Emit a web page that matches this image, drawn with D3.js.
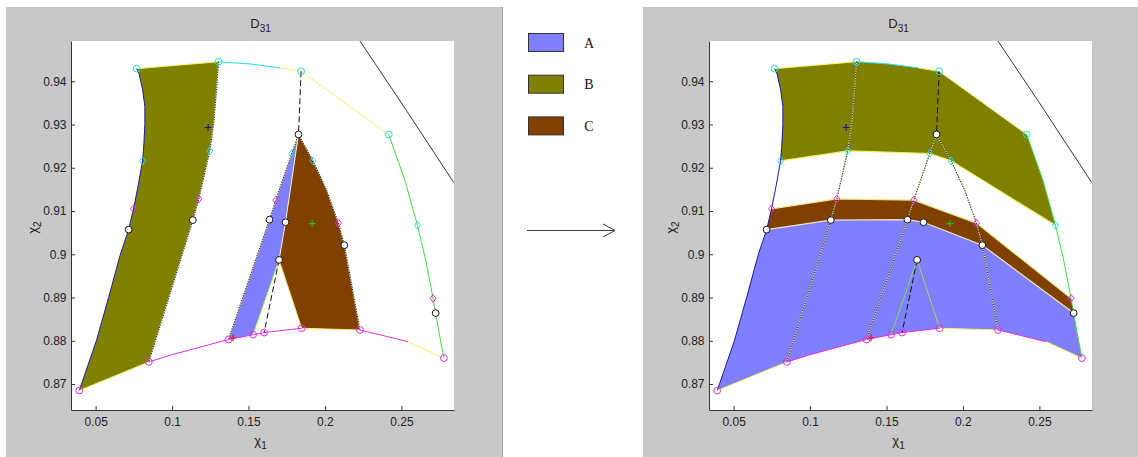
<!DOCTYPE html>
<html>
<head>
<meta charset="utf-8">
<script src="https://cdn.jsdelivr.net/npm/d3@7"></script>
<style>
  body { margin: 0; background: #ffffff; }
  svg { display: block; }
</style>
</head>
<body>
<svg id="chart" width="1138" height="457"></svg>
<script>
// ---- axis ticks ----
const xTicks = [0.05, 0.1, 0.15, 0.2, 0.25];
const xTickLabels = ["0.05", "0.1", "0.15", "0.2", "0.25"];
const yTicks = [0.87, 0.88, 0.89, 0.9, 0.91, 0.92, 0.93, 0.94];
const yTickLabels = ["0.87", "0.88", "0.89", "0.9", "0.91", "0.92", "0.93", "0.94"];
const xDomain = [0.0339, 0.2844];
const yDomain = [0.864, 0.9493];

// ---- legend ----
const legendLabels = ["A", "B", "C"];

// ---- domain boundary (chi1, chi2) ----
// left edge, bottom to top
const leftEdge = [[0.0393, 0.8685], [0.0505, 0.8800], [0.0585, 0.8900], [0.0662, 0.9000], [0.0716, 0.9057],
                  [0.0748, 0.9105], [0.0779, 0.9160], [0.0807, 0.9216], [0.0815, 0.9250], [0.0822, 0.9300],
                  [0.0822, 0.9342], [0.0807, 0.9381], [0.0783, 0.9419], [0.0768, 0.9429]];
// top edge, left to right
const topEdge = [[0.0768, 0.9429], [0.1304, 0.9445], [0.1510, 0.9440], [0.1705, 0.9431], [0.1844, 0.9423], [0.2417, 0.9277]];
// right edge, top to bottom
const rightEdge = [[0.2417, 0.9277], [0.2522, 0.9172], [0.2605, 0.9067], [0.2660, 0.8985], [0.2707, 0.8898],
                   [0.2724, 0.8864], [0.2750, 0.8812], [0.2778, 0.8760]];
// bottom edge, left to right
const bottomEdge = [[0.0393, 0.8685], [0.0848, 0.8751], [0.1000, 0.8768], [0.1138, 0.8781], [0.1369, 0.8803],
                    [0.1530, 0.8814], [0.1602, 0.8819], [0.1848, 0.8829], [0.2229, 0.8825], [0.2543, 0.8798], [0.2778, 0.8760]];

// ---- level curves across the domain ----
const isoCyan = [[0.0807, 0.9216], [0.1247, 0.9239], [0.1783, 0.9233], [0.1922, 0.9216], [0.2605, 0.9067]];
const isoMagenta = [[0.0748, 0.9105], [0.1175, 0.9128], [0.1678, 0.9125], [0.2088, 0.9072], [0.2707, 0.8898]];
const isoBlack = [[0.0716, 0.9057], [0.1136, 0.9079], [0.1637, 0.9080], [0.1742, 0.9074], [0.2127, 0.9021], [0.2724, 0.8864]];

// ---- transversal curves ----
const ray1 = [[0.1304, 0.9445], [0.1291, 0.9381], [0.1273, 0.9304], [0.1247, 0.9239], [0.1175, 0.9128], [0.1136, 0.9079], [0.0848, 0.8751]];
const ray2 = [[0.1827, 0.9277], [0.1783, 0.9233], [0.1678, 0.9125], [0.1637, 0.9080], [0.1369, 0.8803]];
const ray3 = [[0.1827, 0.9277], [0.1922, 0.9216], [0.2010, 0.9149], [0.2088, 0.9072], [0.2127, 0.9021], [0.2229, 0.8825]];
const spine = [[0.1827, 0.9277], [0.1742, 0.9074], [0.1700, 0.8987]];
const cuspLeft = [[0.1700, 0.8987], [0.1530, 0.8814]];
const cuspRight = [[0.1700, 0.8987], [0.1848, 0.8829]];
const dashUpper = [[0.1844, 0.9423], [0.1827, 0.9277]];
const dashLower = [[0.1700, 0.8987], [0.1602, 0.8819]];
const outerArc = [[0.2227, 0.9494], [0.2500, 0.9350], [0.2842, 0.9166]];

// ---- marked points ----
const cyanCircles = [[0.0768, 0.9429], [0.1304, 0.9445], [0.1844, 0.9423], [0.2417, 0.9277]];
const cyanDiamonds = [[0.0807, 0.9216], [0.1247, 0.9239], [0.1783, 0.9233], [0.1922, 0.9216], [0.2605, 0.9067]];
const magentaDiamonds = [[0.0748, 0.9105], [0.1175, 0.9128], [0.1678, 0.9125], [0.2088, 0.9072], [0.2707, 0.8898]];
const blackCircles = [[0.0716, 0.9057], [0.1136, 0.9079], [0.1637, 0.9080], [0.1742, 0.9074], [0.2127, 0.9021],
                      [0.2724, 0.8864], [0.1827, 0.9277], [0.1700, 0.8987]];
const magentaCircles = [[0.0393, 0.8685], [0.0848, 0.8751], [0.1369, 0.8803], [0.1530, 0.8814], [0.1602, 0.8819],
                        [0.1848, 0.8829], [0.2229, 0.8825], [0.2778, 0.8760]];
const plusNavy = [[0.1236, 0.9293]];
const plusGreen = [[0.1916, 0.9071]];
const plusRed = [[0.1399, 0.8807]];

// ---- helpers ----
const part = (arr, i, j) => i <= j ? arr.slice(i, j + 1) : arr.slice(j, i + 1).reverse();
const rev = a => a.slice().reverse();

const fillColor = { A: "#8080ff", B: "#808000", C: "#804000" };

// regions before (left) and after (right) the transformation
const leftRegions = [
  { key: "B", pts: [...leftEdge, ...part(topEdge, 0, 1), ...ray1, ...part(bottomEdge, 1, 0)] },
  { key: "A", pts: [...ray2, ...part(bottomEdge, 4, 5), ...rev(cuspLeft), ...rev(spine)] },
  { key: "C", pts: [...ray3, ...part(bottomEdge, 8, 7), ...rev(cuspRight), ...rev(spine)] }
];
const rightRegions = [
  { key: "B", pts: [...part(leftEdge, 7, 13), ...topEdge, ...part(rightEdge, 0, 2), ...rev(isoCyan)] },
  { key: "C", pts: [...isoMagenta, ...part(rightEdge, 4, 5), ...rev(isoBlack), ...part(leftEdge, 4, 5)] },
  { key: "A", pts: [...isoBlack, ...part(rightEdge, 5, 7), ...rev(bottomEdge), ...part(leftEdge, 0, 4)] }
];

const svg = d3.select("#chart");
const FONT = "'Liberation Sans', Arial, sans-serif";

const YELLOW = "#f4f46a", CYAN = "#22dde8", MAGENTA = "#e22ee2", NAVY = "#1c1c9c", GREEN = "#3fdc3f";

function drawPanel(opt) {
  const [bx, by, bw, bh] = opt.bg;
  const [px, py, pw, ph] = opt.plot;

  svg.append("rect").attr("x", bx).attr("y", by).attr("width", bw).attr("height", bh).attr("fill", "#c8c8c8");

  const g = svg.append("g").attr("transform", `translate(${px},${py})`);
  const x = d3.scaleLinear().domain(xDomain).range([0, pw]);
  const y = d3.scaleLinear().domain(yDomain).range([ph, 0]);
  const line = d3.line().x(d => x(d[0])).y(d => y(d[1]));

  g.append("rect").attr("width", pw).attr("height", ph).attr("fill", "#ffffff");

  const clipId = "clip" + opt.id;
  g.append("clipPath").attr("id", clipId).append("rect").attr("width", pw).attr("height", ph);
  const plot = g.append("g").attr("clip-path", `url(#${clipId})`);

  // filled regions
  plot.selectAll("path.region").data(opt.regions).join("path")
    .attr("class", "region")
    .attr("d", d => line(d.pts) + "Z")
    .attr("fill", d => fillColor[d.key]);

  const stroke = (pts, color, width, dash) => {
    const p = plot.append("path").attr("d", line(pts)).attr("fill", "none")
      .attr("stroke", color).attr("stroke-width", width || 1);
    if (dash) p.attr("stroke-dasharray", dash);
    return p;
  };

  // level curves after the map
  if (opt.showIso) {
    stroke(isoCyan, YELLOW, 1.2);
    stroke(isoMagenta, "#f2e88a", 1.2);
    stroke(isoBlack, "#ece4b8", 1.2);
  }

  // domain boundary
  stroke(leftEdge, NAVY, 1);
  stroke(part(topEdge, 0, 1), YELLOW, 1);
  stroke(part(topEdge, 1, 3), CYAN, 1);
  stroke(part(topEdge, 3, 5), YELLOW, 1);
  stroke(rightEdge, GREEN, 1);
  stroke(part(bottomEdge, 0, 1), YELLOW, 1);
  stroke(part(bottomEdge, 1, 7), MAGENTA, 1);
  stroke(part(bottomEdge, 7, 8), YELLOW, 1);
  stroke(part(bottomEdge, 8, 9), MAGENTA, 1);
  stroke(part(bottomEdge, 9, 10), YELLOW, 1);

  // transversal dotted curves
  [ray1, ray2, ray3].forEach(r => {
    stroke(r, "#f6f67a", 1);
    stroke(r, "#202070", 1.1, "1.2,1.3");
  });

  if (opt.showSpine) {
    stroke(spine, "#f2f2c8", 1);
    stroke(cuspLeft, "#b8f060", 1);
    stroke(cuspRight, "#e8e860", 1);
  } else {
    stroke(cuspLeft, "#7cdc5c", 1);
    stroke(cuspRight, "#9ad86a", 1);
  }

  stroke(dashUpper, "#111111", 1, "6,3");
  stroke(dashLower, "#111111", 1, "6,3");
  stroke(outerArc, "#333333", 1);

  // markers
  const circles = (pts, color, fill) => plot.append("g").selectAll("circle").data(pts).join("circle")
    .attr("cx", d => x(d[0])).attr("cy", d => y(d[1])).attr("r", 3.4)
    .attr("fill", fill || "none").attr("stroke", color).attr("stroke-width", 1);
  const diamonds = (pts, color) => plot.append("g").selectAll("path").data(pts).join("path")
    .attr("d", d => `M${x(d[0])},${y(d[1]) - 4}L${x(d[0]) + 3},${y(d[1])}L${x(d[0])},${y(d[1]) + 4}L${x(d[0]) - 3},${y(d[1])}Z`)
    .attr("fill", "none").attr("stroke", color).attr("stroke-width", 1);
  const pluses = (pts, color) => plot.append("g").selectAll("path").data(pts).join("path")
    .attr("d", d => `M${x(d[0]) - 3.5},${y(d[1])}H${x(d[0]) + 3.5}M${x(d[0])},${y(d[1]) - 3.5}V${y(d[1]) + 3.5}`)
    .attr("stroke", color).attr("stroke-width", 1.2);

  circles(cyanCircles, CYAN);
  diamonds(cyanDiamonds, CYAN);
  diamonds(magentaDiamonds, MAGENTA);
  circles(magentaCircles, MAGENTA);
  circles(blackCircles, "#111111", "#ffffff");
  pluses(plusNavy, "#1c1c8c");
  pluses(plusGreen, "#22bb22");
  pluses(plusRed, "#e02020");

  // axes
  const xAxis = d3.axisBottom(x).tickValues(xTicks).tickFormat((d, i) => xTickLabels[i])
    .tickSizeInner(-4).tickSizeOuter(0).tickPadding(7);
  const yAxis = d3.axisLeft(y).tickValues(yTicks).tickFormat((d, i) => yTickLabels[i])
    .tickSizeInner(-4).tickSizeOuter(0).tickPadding(4.5);

  const gx = g.append("g").attr("transform", `translate(0,${ph})`).call(xAxis);
  const gy = g.append("g").call(yAxis);
  [gx, gy].forEach(a => {
    a.select(".domain").attr("stroke", "#333333");
    a.selectAll(".tick line").attr("stroke", "#333333");
    a.selectAll(".tick text").attr("fill", "#222222").style("font-family", FONT).style("font-size", "12px");
  });

  // axis titles
  const xl = g.append("text").attr("x", pw / 2 - 2).attr("y", ph + 35)
    .attr("text-anchor", "middle").style("font-family", FONT).style("font-size", "13px").attr("fill", "#222");
  xl.append("tspan").text("χ");
  xl.append("tspan").attr("dy", 4).style("font-size", "10px").text("1");

  const yl = g.append("text").attr("transform", `translate(${-34},${ph / 2 + 2}) rotate(-90)`)
    .attr("text-anchor", "middle").style("font-family", FONT).style("font-size", "13px").attr("fill", "#222");
  yl.append("tspan").text("χ");
  yl.append("tspan").attr("dy", 4).style("font-size", "10px").text("2");

  // title
  const t = g.append("text").attr("x", pw / 2 - 2).attr("y", -13)
    .attr("text-anchor", "middle").style("font-family", FONT).style("font-size", "13px").attr("fill", "#222");
  t.append("tspan").text("D");
  t.append("tspan").attr("dy", 4).style("font-size", "10px").text("31");
}

drawPanel({ id: "L", bg: [6, 7, 496, 450], plot: [71, 41, 383, 369], regions: leftRegions, showSpine: true, showIso: false });
drawPanel({ id: "R", bg: [643, 7, 495, 450], plot: [709, 41, 383, 369], regions: rightRegions, showSpine: false, showIso: true });

// separator edge of the left figure
svg.append("line").attr("x1", 502.5).attr("x2", 502.5).attr("y1", 7).attr("y2", 457)
  .attr("stroke", "#a9a6a0").attr("stroke-width", 1);

// legend
const legend = svg.append("g");
legend.selectAll("rect").data(legendLabels).join("rect")
  .attr("x", 528.5).attr("y", (d, i) => 33.5 + i * 41.7)
  .attr("width", 35).attr("height", 18)
  .attr("fill", d => fillColor[d]).attr("stroke", "#333333").attr("stroke-width", 1);
legend.selectAll("text").data(legendLabels).join("text")
  .attr("x", 589).attr("y", (d, i) => 48 + i * 41.3)
  .attr("text-anchor", "middle")
  .style("font-family", "'Liberation Serif', 'Times New Roman', serif").style("font-size", "14px")
  .attr("fill", "#111").text(d => d);

// arrow between the two states
const arrow = svg.append("g").attr("stroke", "#3a3a3a").attr("stroke-width", 1).attr("fill", "none");
arrow.append("line").attr("x1", 527).attr("x2", 615).attr("y1", 230.5).attr("y2", 230.5);
arrow.append("path").attr("d", "M603,224L615,230.5L603,237");
</script>
</body>
</html>
